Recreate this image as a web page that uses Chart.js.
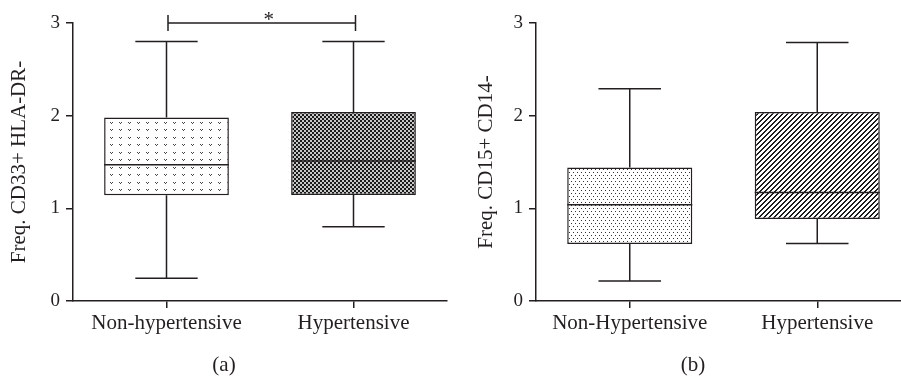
<!DOCTYPE html>
<html>
<head>
<meta charset="utf-8">
<script src="https://cdn.jsdelivr.net/npm/chart.js@4/dist/chart.umd.min.js"></script>
<style>
  body { margin: 0; background: #fff; overflow: hidden; width: 901px; height: 376px; position: relative; }
  .panel { position: absolute; top: 0; height: 376px; }
  .tag { position: absolute; font-family: "Liberation Serif", serif; font-size: 21px; color: #231f20; transform: translate(-50%, -50%); }
</style>
</head>
<body>
<div class="panel" style="left:0;width:450px"><canvas id="chart_a" width="450" height="376"></canvas></div>
<div class="panel" style="left:450px;width:486px"><canvas id="chart_b" width="486" height="376"></canvas></div>
<div class="tag" style="left:224px;top:364px">(a)</div>
<div class="tag" style="left:693px;top:364px">(b)</div>
<script>
// panel (a)
var groupsA = ['Non-hypertensive', 'Hypertensive'];
var minA = [0.245, 0.80];
var q1A  = [1.14, 1.145];
var medA = [1.47, 1.51];
var q3A  = [1.98, 2.04];
var maxA = [2.80, 2.80];

// panel (b)
var groupsB = ['Non-Hypertensive', 'Hypertensive'];
var minB = [0.216, 0.62];
var q1B  = [0.615, 0.885];
var medB = [1.04, 1.17];
var q3B  = [1.44, 2.04];
var maxB = [2.29, 2.79];

var yTicks = [0, 1, 2, 3];

var ink = '#231f20';
var serif = '"Liberation Serif", "Times New Roman", serif';

// hatch fills
function makeTile(w, h, draw) {
    var c = document.createElement('canvas');
    c.width = w; c.height = h;
    var g = c.getContext('2d');
    g.fillStyle = '#fff';
    g.fillRect(0, 0, w, h);
    draw(g, w, h);
    return document.createElement('canvas').getContext('2d').createPattern(c, 'repeat');
}

var vPattern = makeTile(9, 15, function(g) {
    g.fillStyle = '#444';
    [[2, 2], [2, 9]].forEach(function(p) {
        g.fillRect(p[0], p[1], 1, 1);
        g.fillRect(p[0] + 2, p[1], 1, 1);
        g.fillRect(p[0] + 1, p[1] + 1, 1, 1);
    });
});

var checkPattern = makeTile(4, 4, function(g) {
    g.fillStyle = '#c8c8c8';
    g.fillRect(0, 0, 4, 4);
    g.fillStyle = '#1a1a1a';
    g.fillRect(0, 0, 2, 2);
    g.fillRect(2, 2, 2, 2);
});

var dotPattern = makeTile(4, 6, function(g) {
    g.fillStyle = '#333';
    g.fillRect(1, 1, 1, 1);
    g.fillRect(3, 4, 1, 1);
});

var stripePattern = makeTile(5, 5, function(g) {
    g.fillStyle = '#1c1c1c';
    for (var x = 0; x < 5; x++) {
        for (var y = 0; y < 5; y++) {
            if ((x + y) % 5 < 2) g.fillRect(x, y, 1, 1);
        }
    }
});

// whiskers, caps and median line on top of the floating bars
var boxPlugin = {
    id: 'boxWhiskers',
    afterDatasetsDraw: function(chart) {
        var ds = chart.data.datasets[0];
        var meta = chart.getDatasetMeta(0);
        var y = chart.scales.y;
        var ctx = chart.ctx;
        ctx.save();
        ctx.strokeStyle = ink;
        ctx.lineWidth = 1.5;
        meta.data.forEach(function(bar, i) {
            var half = bar.width / 2;
            var cap = bar.width / 4;
            var yMin = y.getPixelForValue(ds.mins[i]);
            var yMax = y.getPixelForValue(ds.maxs[i]);
            var yMed = y.getPixelForValue(ds.meds[i]);
            var yQ1 = y.getPixelForValue(ds.data[i][0]);
            var yQ3 = y.getPixelForValue(ds.data[i][1]);
            ctx.beginPath();
            ctx.moveTo(bar.x - half, yMed); ctx.lineTo(bar.x + half, yMed);
            ctx.moveTo(bar.x, yQ3); ctx.lineTo(bar.x, yMax);
            ctx.moveTo(bar.x - cap, yMax); ctx.lineTo(bar.x + cap, yMax);
            ctx.moveTo(bar.x, yQ1); ctx.lineTo(bar.x, yMin);
            ctx.moveTo(bar.x - cap, yMin); ctx.lineTo(bar.x + cap, yMin);
            ctx.stroke();
        });
        ctx.restore();
    }
};

// significance bracket for panel (a)
var sigPlugin = {
    id: 'sigBracket',
    afterDraw: function(chart) {
        var x = chart.scales.x;
        var y = chart.scales.y;
        var ctx = chart.ctx;
        var x1 = x.getPixelForValue(0) + 1.5;
        var x2 = x.getPixelForValue(1) + 2;
        var yy = y.getPixelForValue(3);
        ctx.save();
        ctx.strokeStyle = ink;
        ctx.lineWidth = 1.5;
        ctx.beginPath();
        ctx.moveTo(x1, yy); ctx.lineTo(x2, yy);
        ctx.moveTo(x1, yy - 8); ctx.lineTo(x1, yy + 8);
        ctx.moveTo(x2, yy - 8); ctx.lineTo(x2, yy + 8);
        ctx.stroke();
        ctx.fillStyle = ink;
        ctx.font = '21px ' + serif;
        ctx.textAlign = 'center';
        ctx.textBaseline = 'alphabetic';
        ctx.fillText('*', (x1 + x2) / 2 + 7, yy + 3);
        ctx.restore();
    }
};

function boxChart(id, labels, mins, q1, meds, q3, maxs, fills, title, axisWidth, titlePad, padRight, extra) {
    var el = document.getElementById(id);
    if (!el) return;
    new Chart(el, {
        type: 'bar',
        data: {
            labels: labels,
            datasets: [{
                data: q1.map(function(v, i) { return [v, q3[i]]; }),
                mins: mins,
                meds: meds,
                maxs: maxs,
                backgroundColor: fills,
                borderColor: ink,
                borderWidth: 1.5,
                borderSkipped: false,
                barPercentage: 0.667,
                categoryPercentage: 1
            }]
        },
        options: {
            responsive: false,
            animation: false,
            events: [],
            layout: { padding: { top: 23, right: padRight, left: 0, bottom: 0 } },
            plugins: {
                legend: { display: false },
                tooltip: { enabled: false }
            },
            scales: {
                x: {
                    offset: true,
                    grid: { display: true, drawOnChartArea: false, tickLength: 7, color: ink, lineWidth: 1.5, offset: false },
                    border: { display: true, color: ink, width: 1.5 },
                    ticks: { color: ink, padding: 3, font: { family: serif, size: 21 }, maxRotation: 0 },
                    afterFit: function(scale) { scale.height = 75; }
                },
                y: {
                    min: 0,
                    max: 3,
                    afterBuildTicks: function(scale) {
                        scale.ticks = yTicks.map(function(v) { return { value: v }; });
                    },
                    grid: { display: true, drawOnChartArea: false, tickLength: 7, color: ink, lineWidth: 1.5 },
                    border: { display: true, color: ink, width: 1.5 },
                    ticks: { color: ink, padding: 6, font: { family: serif, size: 19 } },
                    title: {
                        display: true,
                        text: title,
                        color: ink,
                        font: { family: serif, size: 21 },
                        padding: { top: titlePad, bottom: 0 }
                    },
                    afterFit: function(scale) { scale.width = axisWidth; }
                }
            }
        },
        plugins: [boxPlugin].concat(extra)
    });
}

boxChart('chart_a', groupsA, minA, q1A, medA, q3A, maxA, [vPattern, checkPattern],
    'Freq. CD33+ HLA-DR-', 73, 7, 3, [sigPlugin]);
boxChart('chart_b', groupsB, minB, q1B, medB, q3B, maxB, [dotPattern, stripePattern],
    'Freq. CD15+ CD14-', 86, 24, 25, []);
</script>
</body>
</html>
